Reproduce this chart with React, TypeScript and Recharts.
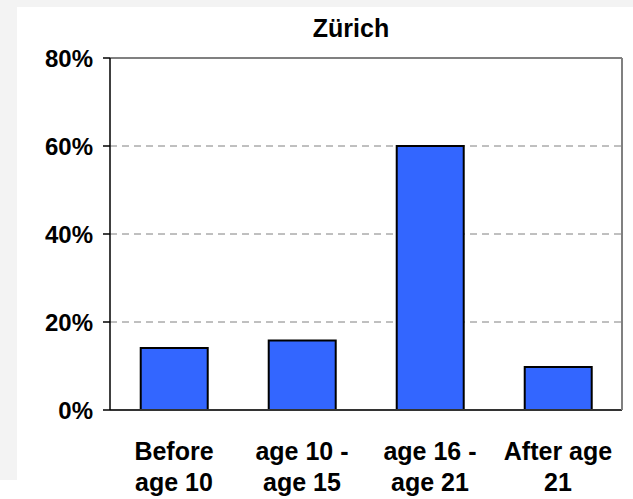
import React from "react";
import { BarChart, Bar, XAxis, YAxis, CartesianGrid } from "recharts";

const title = "Zürich";
const categories = ["Before\nage 10", "age 10 -\nage 15", "age 16 -\nage 21", "After age\n21"];
const shares = [0.141, 0.158, 0.6, 0.098];
const yTicks = [0, 0.2, 0.4, 0.6, 0.8];
const edgeTicks = [0, 1, 2, 3, 4];

const data = categories.map((c, i) => ({ name: c, value: shares[i], pos: i + 0.5 }));

const FONT = "'Liberation Sans', Arial, sans-serif";

const CatTick = (props: any) => {
  const { x, y, payload } = props;
  const lines = String(payload.value).split("\n");
  return (
    <text x={x} y={y} textAnchor="middle" fontFamily={FONT} fontWeight="bold" fontSize={25} fill="#000">
      {lines.map((l, i) => (
        <tspan key={i} x={x} dy={i === 0 ? 49 : 31}>
          {l}
        </tspan>
      ))}
    </text>
  );
};

export default function App() {
  return (
    <div style={{ position: "absolute", left: 0, top: 0, width: 633, height: 499, background: "#fff", overflow: "hidden" }}>
      <div style={{ position: "absolute", left: 0, top: 0, width: 633, height: 7, background: "#f3f3f3" }} />
      <div style={{ position: "absolute", left: 0, top: 0, width: 17, height: 480, background: "#f3f3f3" }} />
      <div
        style={{
          position: "absolute",
          left: 251,
          width: 200,
          top: 10,
          textAlign: "center",
          fontFamily: FONT,
          fontWeight: "bold",
          fontSize: 25,
          lineHeight: "36px",
          color: "#000",
        }}
      >
        {title}
      </div>
      <div style={{ position: "absolute", left: 0, top: 0 }}>
        <BarChart width={633} height={499} data={data} margin={{ top: 57, right: 10, bottom: 0, left: 0 }} barCategoryGap="24%">
          <CartesianGrid vertical={false} stroke="#808080" strokeDasharray="7 5" strokeWidth={1} />
          <XAxis
            xAxisId="a"
            type="number"
            dataKey="pos"
            domain={[0, 4]}
            ticks={edgeTicks}
            allowDataOverflow
            tick={false}
            tickSize={7}
            height={1}
            axisLine={{ stroke: "#333", strokeWidth: 2 }}
            tickLine={{ stroke: "#333", strokeWidth: 1.5 }}
          />
          <XAxis
            xAxisId="b"
            dataKey="name"
            axisLine={false}
            tickLine={false}
            tickSize={0}
            tickMargin={0}
            height={88}
            interval={0}
            tick={<CatTick />}
          />
          <XAxis
            xAxisId="t"
            orientation="top"
            type="number"
            dataKey="pos"
            domain={[0, 4]}
            allowDataOverflow
            height={1}
            tick={false}
            tickLine={false}
            axisLine={{ stroke: "#808080", strokeWidth: 2 }}
          />
          <YAxis
            domain={[0, 0.8]}
            ticks={yTicks}
            width={110}
            tickSize={7}
            tickMargin={10}
            tickFormatter={(v: number) => `${Math.round(v * 100)}%`}
            tick={{ fontFamily: FONT, fontWeight: "bold", fontSize: 24, fill: "#000" }}
            axisLine={{ stroke: "#000", strokeWidth: 1.5 }}
            tickLine={{ stroke: "#000", strokeWidth: 1.5 }}
          />
          <YAxis
            yAxisId="r"
            orientation="right"
            dataKey="value"
            domain={[0, 0.8]}
            allowDataOverflow
            width={1}
            tick={false}
            tickLine={false}
            axisLine={{ stroke: "#808080", strokeWidth: 2 }}
          />
          <Bar dataKey="value" xAxisId="b" fill="#3366ff" stroke="#000" strokeWidth={2} isAnimationActive={false} />
        </BarChart>
      </div>
    </div>
  );
}
